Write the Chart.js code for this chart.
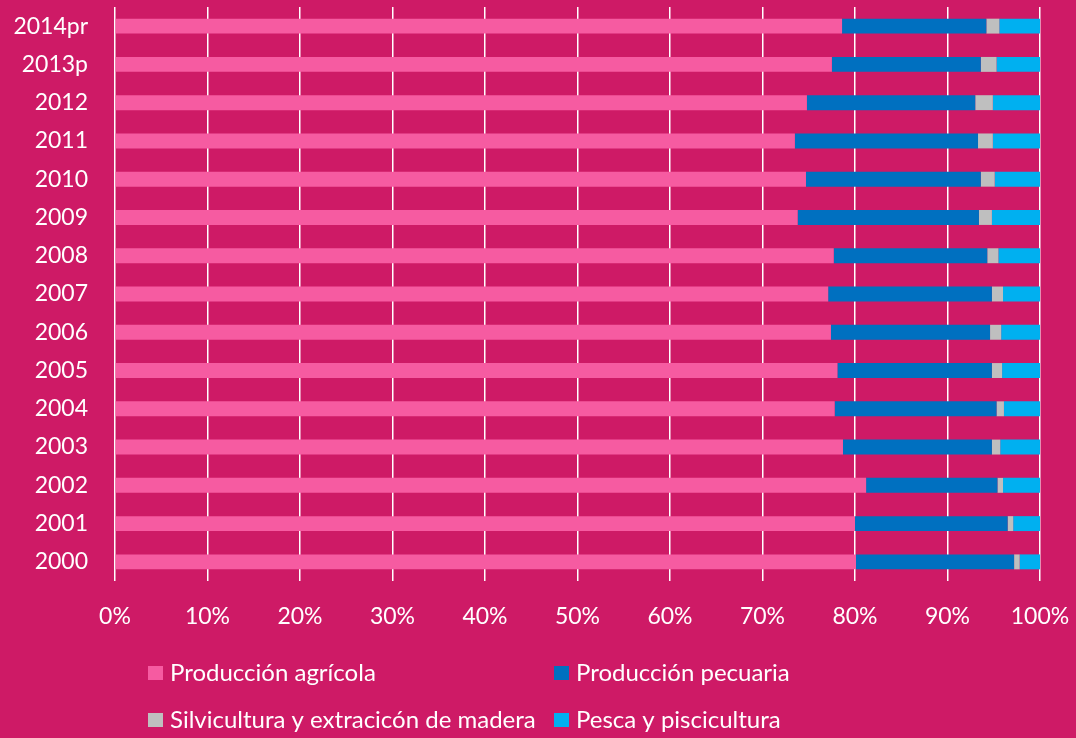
<!DOCTYPE html>
<html>
<head>
<meta charset="utf-8">
<script src="https://cdn.jsdelivr.net/npm/chart.js@4/dist/chart.umd.min.js"></script>
<style>
  html, body { margin: 0; padding: 0; background: #CE1A66; }
  #wrap { width: 1076px; height: 738px; }
</style>
</head>
<body>
<div id="wrap"><canvas id="barChart" width="1076" height="738"></canvas></div>
<script>
var years = ['2014pr', '2013p', '2012', '2011', '2010', '2009', '2008', '2007', '2006', '2005', '2004', '2003', '2002', '2001', '2000'];
var agricola = [78.6, 77.5, 74.8, 73.5, 74.7, 73.8, 77.7, 77.1, 77.4, 78.1, 77.8, 78.7, 81.2, 80.0, 80.1];
var pecuaria = [15.6, 16.1, 18.2, 19.8, 18.9, 19.6, 16.6, 17.7, 17.2, 16.7, 17.5, 16.1, 14.2, 16.5, 17.1];
var silvicultura = [1.4, 1.7, 1.9, 1.6, 1.5, 1.4, 1.2, 1.2, 1.2, 1.1, 0.8, 0.9, 0.6, 0.6, 0.6];
var pesca = [4.4, 4.7, 5.1, 5.1, 4.9, 5.2, 4.5, 4.0, 4.2, 4.1, 3.9, 4.3, 4.0, 2.9, 2.2];
var xTicks = [0, 10, 20, 30, 40, 50, 60, 70, 80, 90, 100];

var seriesNames = ['Producción agrícola', 'Producción pecuaria', 'Silvicultura y extracicón de madera', 'Pesca y piscicultura'];
var seriesColors = ['#F65BA1', '#0070C0', '#BFBFBF', '#00B0F0'];

var fontFamily = 'Lato, "Open Sans", sans-serif';

// legend drawn as a 2x2 grid like the original
var gridLegend = {
  id: 'gridLegend',
  afterDraw: function(chart) {
    var ctx = chart.ctx;
    var cols = [148, 554];
    var rows = [673, 720];
    ctx.save();
    ctx.font = '24px ' + fontFamily;
    ctx.textBaseline = 'middle';
    ctx.textAlign = 'left';
    chart.data.datasets.forEach(function(ds, i) {
      var x = cols[i % 2];
      var y = rows[Math.floor(i / 2)];
      ctx.fillStyle = ds.backgroundColor;
      ctx.fillRect(x, y - 7, 15, 14);
      ctx.fillStyle = '#FFFFFF';
      ctx.fillText(ds.label, x + 22, y);
    });
    ctx.restore();
  }
};

var seriesData = [agricola, pecuaria, silvicultura, pesca];
var datasets = [];
for (var i = 0; i < seriesData.length; i++) {
  datasets.push({
    label: seriesNames[i],
    data: seriesData[i],
    backgroundColor: seriesColors[i],
    borderWidth: 0,
    categoryPercentage: 1,
    barPercentage: 0.39
  });
}

var ctxB = document.getElementById('barChart').getContext('2d');
var myBarChart = new Chart(ctxB, {
  type: 'bar',
  data: {
    labels: years,
    datasets: datasets
  },
  plugins: [gridLegend],
  options: {
    responsive: false,
    animation: false,
    indexAxis: 'y',
    layout: { padding: { left: 0, right: 36, top: 7, bottom: 0 } },
    plugins: {
      legend: { display: false },
      tooltip: { enabled: false }
    },
    scales: {
      x: {
        stacked: true,
        min: 0,
        max: 100,
        afterBuildTicks: function(scale) {
          scale.ticks = xTicks.map(function(v) { return { value: v }; });
        },
        afterFit: function(scale) {
          scale.height = 157;
          scale.paddingLeft = 0;
          scale.paddingRight = 0;
        },
        grid: { color: '#FFFFFF', lineWidth: 1.5, drawTicks: false },
        border: { display: false },
        ticks: {
          color: '#FFFFFF',
          padding: 22,
          maxRotation: 0,
          font: { family: fontFamily, size: 23 },
          callback: function(v) { return v + '%'; }
        }
      },
      y: {
        stacked: true,
        afterFit: function(scale) {
          scale.width = 115;
          scale.paddingTop = 0;
          scale.paddingBottom = 0;
        },
        grid: { display: false },
        border: { display: false },
        ticks: {
          color: '#FFFFFF',
          padding: 19,
          font: { family: fontFamily, size: 23 }
        }
      }
    }
  }
});
</script>
</body>
</html>
